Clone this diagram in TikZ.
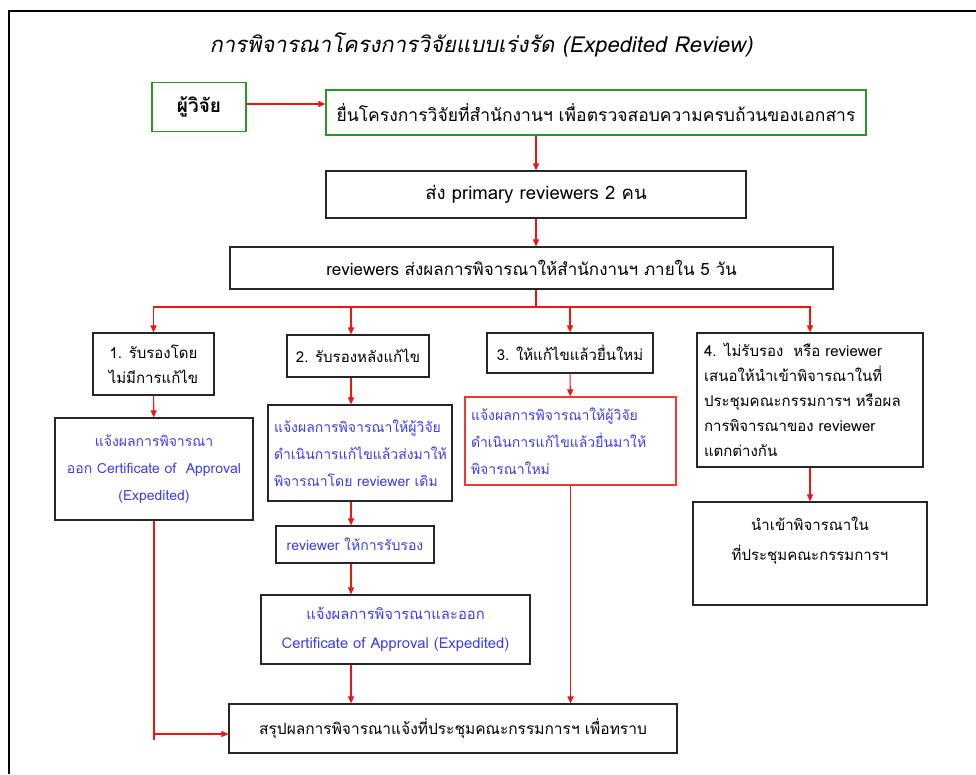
\documentclass[tikz,border=0pt]{standalone}
\usepackage{fontspec}
\setmainfont[Script=Thai]{Loma}
\newfontfamily\titlefont[Script=Thai,FakeSlant=0.2]{Loma}
\usetikzlibrary{arrows.meta,positioning,calc}
\definecolor{entrygreen}{RGB}{40,150,40}
\definecolor{noticeblue}{RGB}{60,60,240}
\definecolor{flowred}{RGB}{240,20,20}

\begin{document}
\begin{tikzpicture}[x=1pt,y=-1pt,
  stage/.style={rectangle, draw=black!85, line width=1.2pt, inner sep=3pt, align=center, font=\fontsize{15}{25}\selectfont},
  entry/.style={stage, draw=entrygreen},
  notice/.style={stage, text=noticeblue, font=\fontsize{14}{27}\selectfont},
  arr/.style={-{Triangle[length=7pt,width=6pt]}, draw=flowred, line width=1.1pt},
  wire/.style={draw=flowred, line width=1.1pt}
]
\useasboundingbox (0,0) rectangle (976,774);
\draw[line width=2.5pt] (9,774) -- (9,11) -- (976,11);
\node[font=\titlefont\fontsize{22}{26}\selectfont] (title) at (481,45) {การพิจารณาโครงการวิจัยแบบเร่งรัด (Expedited Review)};
% top of the flow
\node[entry, minimum width=94, minimum height=49, font=\bfseries\fontsize{19}{22}\selectfont] (researcher) at (199,107) {ผู้วิจัย};
\node[entry, minimum width=540, minimum height=45, font=\fontsize{17.5}{22}\selectfont] (submit) at (596,112.5) {ยื่นโครงการวิจัยที่สำนักงานฯ เพื่อตรวจสอบความครบถ้วนของเอกสาร};
\node[stage, minimum width=420, minimum height=47, font=\fontsize{18.5}{22}\selectfont] (assign) at (536,194.5) {ส่ง primary reviewers 2 คน};
\node[stage, minimum width=603, minimum height=42, font=\fontsize{17}{22}\selectfont] (results) at (531.5,268) {reviewers ส่งผลการพิจารณาให้สำนักงานฯ ภายใน 5 วัน};
\coordinate (handoff) at ([yshift=3pt]researcher.east);
\coordinate (fork) at (536,307);
\coordinate (lane2) at (351,0);
% four outcomes
\node[stage, minimum width=121, minimum height=62] (opt1) at (153.5,364) {1. รับรองโดย\\ไม่มีการแก้ไข};
\node[stage, minimum width=142, minimum height=42] (opt2) at (358,356) {2. รับรองหลังแก้ไข};
\node[stage, minimum width=166, minimum height=40] (opt3) at (570,353) {3. ให้แก้ไขแล้วยื่นใหม่};
\node[stage, minimum width=226, minimum height=134, text width=212, align=left] (opt4) at (810,400) {4. ไม่รับรอง\ \ หรือ reviewer\\เสนอให้นำเข้าพิจารณาในที่\\ประชุมคณะกรรมการฯ หรือผล\\การพิจารณาของ reviewer\\แตกต่างกัน};
\node[notice, minimum width=198, minimum height=102] (cert1) at (154,469) {แจ้งผลการพิจารณา\\ออก Certificate of\ \ Approval\\(Expedited)};
\node[notice, minimum width=184, minimum height=96, text width=172, align=left] (fix2) at (360,453) {แจ้งผลการพิจารณาให้ผู้วิจัย\\ดำเนินการแก้ไขแล้วส่งมาให้\\พิจารณาโดย reviewer เดิม};
\node[notice, minimum width=158, minimum height=37] (ok2) at (355,544.5) {reviewer ให้การรับรอง};
\node[notice, minimum width=269, minimum height=69, font=\fontsize{14.8}{29}\selectfont] (cert2) at (395.5,629.5) {แจ้งผลการพิจารณาและออก\\Certificate of Approval (Expedited)};
\node[notice, draw=flowred!85, minimum width=211, minimum height=88, text width=199, align=left] (fix3) at (570.5,441) {แจ้งผลการพิจารณาให้ผู้วิจัย\\ดำเนินการแก้ไขแล้วยื่นมาให้\\พิจารณาใหม่};
\node[stage, minimum width=234, minimum height=103, font=\fontsize{15}{30}\selectfont] (meet4) at (810,553.5) {นำเข้าพิจารณาใน\\ที่ประชุมคณะกรรมการฯ\\\mbox{}};
\node[stage, minimum width=448, minimum height=49, font=\fontsize{15.5}{22}\selectfont] (summary) at (453,728.5) {สรุปผลการพิจารณาแจ้งที่ประชุมคณะกรรมการฯ เพื่อทราบ};
\coordinate (tip) at ([yshift=-5.5pt]summary.west);
% connectors
\draw[arr] (handoff) -- (submit.west |- handoff);
\draw[arr] (submit.south -| assign) -- (assign.north);
\draw[arr] (assign.south) -- (results.north -| assign);
\draw[wire] (results.south -| fork) -- (fork);
\draw[arr] (fork) -| (opt1.north);
\draw[arr] (fork) -| (opt2.north -| lane2);
\draw[arr] (fork) -| (opt3.north);
\draw[arr] (fork) -| (opt4.north);
\draw[arr] (opt1) -- (cert1);
\draw[wire] (cert1.south) -- ++(0,219);
\draw[arr] (cert1.south |- tip) -- (tip);
\draw[arr] (opt2.south -| lane2) -- (fix2.north -| lane2);
\draw[arr] (fix2.south -| lane2) -- (ok2.north -| lane2);
\draw[arr] (ok2.south -| lane2) -- (cert2.north -| lane2);
\draw[arr] (cert2.south -| lane2) -- (summary.north -| lane2);
\draw[arr] (opt3) -- (fix3);
\draw[arr] (fix3.south) -- (summary.north -| fix3);
\draw[arr] (opt4) -- (meet4);
\end{tikzpicture}
\end{document}
